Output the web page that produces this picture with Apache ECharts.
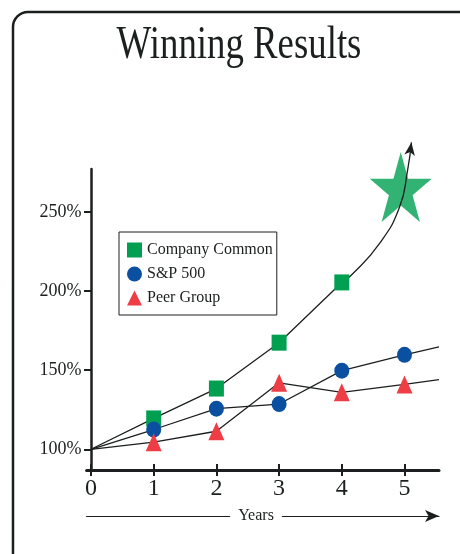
<!DOCTYPE html>
<html>
<head>
<meta charset="utf-8">
<script src="https://cdn.jsdelivr.net/npm/echarts@6/dist/echarts.min.js"></script>
<style>
  html, body { margin: 0; padding: 0; background: #fff; }
  #chart { width: 460px; height: 554px; }
</style>
</head>
<body>
<div id="chart"></div>
<script>
// values (percent of starting value)
var years = [0, 1, 2, 3, 4, 5];
var companyCommon = [100, 119.5, 138.4, 167.4, 205.5];
var sp500 = [100, 112.5, 125.7, 128.6, 149.7, 159.7];
var peerGroup = [100, 104.5, 111.4, 142, 136, 141];
// where the two index lines run out at the right edge
var lineEndX = 5.55;
var sp500End = 164.7;
var peerGroupEnd = 144;
// company line curving up past year 4 to the arrow head
var curveX = [4, 4.15, 4.6, 4.92, 5.05, 5.11];
var curveY = [205.5, 210, 230, 253, 276.6, 294];
var starPoint = [4.94, 265.8];
var yTicks = [100, 150, 200, 250];
var xTicks = [0, 1, 2, 3, 4, 5];

var GREEN = '#00a050', BLUE = '#0a4fa0', RED = '#ee3d45', INK = '#1c1f1f';
var SERIF = '"Liberation Serif", "Times New Roman", serif';

// [x, y] pairs, no marker on the common starting point
function pairs(xs, ys) {
    return ys.map(function (v, i) {
        if (xs[i] === 0) return { value: [xs[i], v], symbol: 'none' };
        return [xs[i], v];
    });
}

var spData = pairs(years, sp500);
spData.push({ value: [lineEndX, sp500End], symbol: 'none' });
var peerData = pairs(years, peerGroup);
peerData.push({ value: [lineEndX, peerGroupEnd], symbol: 'none' });
var curveData = curveY.map(function (v, i) {
    if (i === curveY.length - 1) {
        return { value: [curveX[i], v], symbol: 'arrow', symbolSize: [8, 13], symbolRotate: -8 };
    }
    return { value: [curveX[i], v], symbol: 'none' };
});

var STAR = 'path://M0,-100 L22.45,-30.9 L95.1,-30.9 L36.3,11.8 L58.8,80.9 L0,38.2 L-58.8,80.9 L-36.3,11.8 L-95.1,-30.9 L-22.45,-30.9 Z';

var xBase = { type: 'value', min: -0.07, max: 5.55 };

var myChart = echarts.init(document.getElementById('chart'));
var option = {
    animation: false,
    grid: { left: 86.6, right: 21, top: 169, bottom: 84 },
    graphic: [
        {
            type: 'rect',
            shape: { x: 13, y: 12, width: 500, height: 600, r: 15 },
            style: { fill: 'none', stroke: INK, lineWidth: 2.5 },
            silent: true
        },
        {
            type: 'text',
            x: 239, y: 46,
            scaleX: 0.8,
            style: {
                text: 'Winning Results',
                font: '46px ' + SERIF,
                fill: INK,
                textAlign: 'center',
                textVerticalAlign: 'middle'
            }
        },
        {
            type: 'text',
            x: 256, y: 516,
            z: 100,
            style: {
                text: 'Years',
                font: '16px ' + SERIF,
                fill: INK,
                textAlign: 'center',
                textVerticalAlign: 'middle',
                backgroundColor: '#fff',
                padding: [2, 8]
            }
        }
    ],
    legend: {
        orient: 'vertical',
        left: 119, top: 232,
        padding: [10, 4, 9, 8],
        itemGap: 8,
        itemWidth: 15, itemHeight: 15,
        borderColor: INK, borderWidth: 1,
        textStyle: { fontFamily: SERIF, fontSize: 16, color: INK },
        data: [
            { name: 'Company Common', icon: 'rect' },
            { name: 'S&P 500', icon: 'circle' },
            { name: 'Peer Group', icon: 'triangle' }
        ]
    },
    xAxis: [
        Object.assign({}, xBase, {
            position: 'bottom',
            axisLine: { onZero: false, lineStyle: { color: INK, width: 3 } },
            axisTick: { customValues: xTicks, length: 6, lineStyle: { color: INK, width: 2 } },
            axisLabel: { customValues: xTicks, margin: 7, fontFamily: SERIF, fontSize: 24, color: INK },
            splitLine: { show: false }
        }),
        Object.assign({}, xBase, {
            position: 'bottom',
            axisLine: { show: false, onZero: false },
            axisTick: { customValues: xTicks, inside: true, length: 6, lineStyle: { color: INK, width: 2 } },
            axisLabel: { show: false },
            splitLine: { show: false }
        }),
        Object.assign({}, xBase, {
            position: 'bottom',
            offset: 46,
            min: 0,
            axisLine: {
                onZero: false,
                symbol: ['none', 'arrow'],
                symbolSize: [9, 14],
                lineStyle: { color: INK, width: 1.2 }
            },
            axisTick: { show: false },
            axisLabel: { show: false },
            splitLine: { show: false }
        })
    ],
    yAxis: [
        {
            type: 'value', min: 86.9, max: 277.2,
            axisLine: { show: true, onZero: true, lineStyle: { color: INK, width: 2.5 } },
            axisTick: { show: true, customValues: yTicks, length: 6, lineStyle: { color: INK, width: 2 } },
            axisLabel: {
                customValues: yTicks, margin: 5,
                fontFamily: SERIF, fontSize: 18, color: INK,
                formatter: function (v) { return v + '%'; }
            },
            splitLine: { show: false }
        },
        {
            type: 'value', min: 86.9, max: 277.2,
            axisLine: { show: false, onZero: true },
            axisTick: { show: true, customValues: yTicks, inside: true, length: 7, lineStyle: { color: INK, width: 2 } },
            axisLabel: { show: false },
            splitLine: { show: false }
        }
    ],
    series: [
        {
            name: 'star',
            type: 'scatter',
            data: [starPoint],
            symbol: STAR,
            symbolSize: [62, 70],
            itemStyle: { color: GREEN },
            clip: false,
            z: 1
        },
        {
            name: 'Company Common',
            type: 'line',
            data: pairs(years, companyCommon),
            symbol: 'rect',
            symbolSize: [15, 16],
            itemStyle: { color: GREEN },
            lineStyle: { color: INK, width: 1.3 },
            z: 3
        },
        {
            name: 'curve',
            type: 'line',
            data: curveData,
            smooth: 0.5,
            clip: false,
            itemStyle: { color: INK },
            lineStyle: { color: INK, width: 1.3 },
            z: 2
        },
        {
            name: 'S&P 500',
            type: 'line',
            data: spData,
            symbol: 'circle',
            symbolSize: [15, 16],
            clip: false,
            itemStyle: { color: BLUE },
            lineStyle: { color: INK, width: 1.3 },
            z: 3
        },
        {
            name: 'Peer Group',
            type: 'line',
            data: peerData,
            symbol: 'triangle',
            symbolSize: [16, 18],
            clip: false,
            itemStyle: { color: RED },
            lineStyle: { color: INK, width: 1.3 },
            z: 3
        }
    ]
};
myChart.setOption(option);
</script>
</body>
</html>
